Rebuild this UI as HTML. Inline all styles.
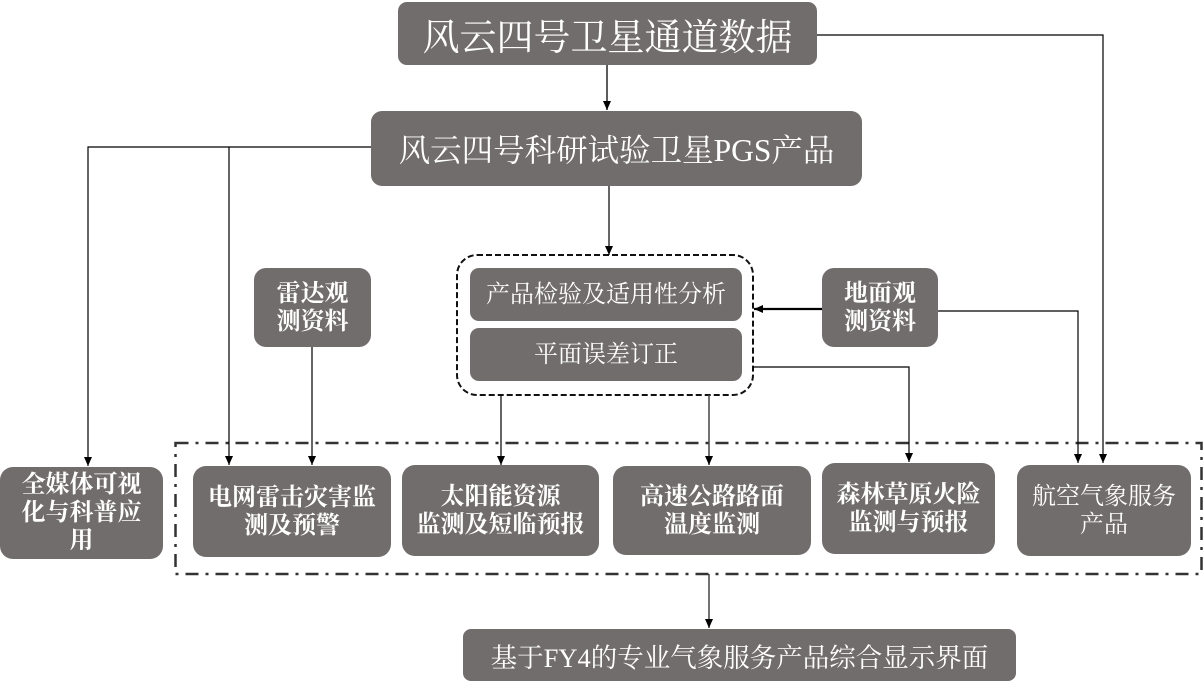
<!DOCTYPE html>
<html>
<head>
<meta charset="utf-8">
<style>
html,body{margin:0;padding:0;background:#fff;}
body{width:1204px;height:688px;position:relative;overflow:hidden;}
.b{position:absolute;background:#716d6c;color:#fff;display:flex;align-items:center;justify-content:center;text-align:center;
font-family:"Liberation Serif","Noto Serif CJK SC",serif;box-sizing:border-box;white-space:nowrap;}
.s{font-size:24px;line-height:28px;font-weight:bold;border-radius:13px;}
svg{position:absolute;left:0;top:0;}
</style>
</head>
<body>
<svg width="1204" height="688" viewBox="0 0 1204 688">
<defs>
<marker id="a" markerWidth="10" markerHeight="10" refX="9" refY="5" orient="auto" markerUnits="userSpaceOnUse">
<path d="M0,1 L9,5 L0,9 z" fill="#000"/>
</marker>
</defs>
<rect x="175.5" y="443" width="1026" height="131" fill="none" stroke="#333" stroke-width="2.5" stroke-dasharray="13 7 3 7"/>
<rect x="457" y="255" width="296" height="140" rx="20" ry="20" fill="none" stroke="#111" stroke-width="2" stroke-dasharray="6 3"/>
<g fill="none" stroke="#000" stroke-width="1.2">
<path d="M607 65 V110" stroke="#333" stroke-width="1.6" marker-end="url(#a)"/>
<path d="M817 35 H1103 V463" marker-end="url(#a)"/>
<path d="M371 147 H88 V466" marker-end="url(#a)"/>
<path d="M229 147 V465" marker-end="url(#a)"/>
<path d="M609 186 V255" marker-end="url(#a)"/>
<path d="M312 347 V465" marker-end="url(#a)"/>
<path d="M822 309 H754" stroke-width="2.2" marker-end="url(#a)"/>
<path d="M938 311 H1078 V463" marker-end="url(#a)"/>
<path d="M501 395 V465" marker-end="url(#a)"/>
<path d="M709 395 V465" stroke="#444" stroke-width="1.5" marker-end="url(#a)"/>
<path d="M753 367 H909 V462" marker-end="url(#a)"/>
<path d="M709 574 V628" stroke="#444" stroke-width="1.5" marker-end="url(#a)"/>
</g>
</svg>

<div class="b" style="left:398px;top:2px;width:419px;height:63px;border-radius:9px;font-size:37px;">风云四号卫星通道数据</div>
<div class="b" style="left:371px;top:111px;width:491px;height:75px;border-radius:11px;font-size:31.5px;">风云四号科研试验卫星PGS产品</div>

<div class="b s" style="left:470px;top:268px;width:272px;height:53px;border-radius:9px;font-weight:normal;">产品检验及适用性分析</div>
<div class="b s" style="left:470px;top:328px;width:272px;height:53px;border-radius:9px;font-weight:normal;">平面误差订正</div>

<div class="b s" style="left:254px;top:268px;width:117px;height:79px;border-radius:12px;">雷达观<br>测资料</div>
<div class="b s" style="left:822px;top:268px;width:116px;height:79px;border-radius:12px;">地面观<br>测资料</div>

<div class="b s" style="left:0px;top:467px;width:163px;height:92px;">全媒体可视<br>化与科普应<br>用</div>
<div class="b s" style="left:193px;top:466px;width:198px;height:91px;">电网雷击灾害监<br>测及预警</div>
<div class="b s" style="left:402px;top:465px;width:197px;height:91px;">太阳能资源<br>监测及短临预报</div>
<div class="b s" style="left:613px;top:466px;width:198px;height:89px;">高速公路路面<br>温度监测</div>
<div class="b s" style="left:822px;top:463px;width:173px;height:91px;">森林草原火险<br>监测与预报</div>
<div class="b s" style="left:1017px;top:465px;width:174px;height:91px;font-weight:normal;">航空气象服务<br>产品</div>

<div class="b" style="left:463px;top:629px;width:553px;height:52px;border-radius:8px;font-size:26.5px;">基于FY4的专业气象服务产品综合显示界面</div>
</body>
</html>
